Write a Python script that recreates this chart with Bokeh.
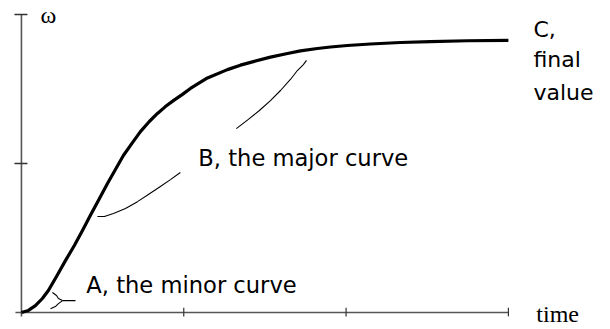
from bokeh.plotting import figure
from bokeh.models import Range1d
from bokeh.core.properties import value
from bokeh.embed import file_html
from bokeh.resources import INLINE

# Step response: angular speed omega against time
time = [0.0, 0.043, 0.086, 0.129, 0.166, 0.216, 0.271, 0.326, 0.376, 0.425,
        0.474, 0.530, 0.579, 0.628, 0.684, 0.733, 0.788, 0.838, 0.887, 0.936,
        0.992, 1.041, 1.146, 1.269, 1.349, 1.429, 1.534, 1.639, 1.719, 1.823,
        1.904, 2.008, 2.150, 2.335, 2.520, 2.747, 3.0]
omega = [0.0, 0.007, 0.023, 0.047, 0.074, 0.121, 0.174, 0.225, 0.275, 0.326,
         0.376, 0.433, 0.480, 0.527, 0.570, 0.607, 0.641, 0.668, 0.691, 0.711,
         0.732, 0.752, 0.787, 0.815, 0.830, 0.842, 0.857, 0.869, 0.878, 0.886,
         0.891, 0.896, 0.901, 0.906, 0.909, 0.912, 0.913]

x_ticks = [1, 2, 3]
y_ticks = [0.5, 1.0]

# Leader lines tying the labels to parts of the curve
lead_b1_x = [0.468, 0.511, 0.567, 0.641, 0.715, 0.782, 0.856, 0.918, 0.979]
lead_b1_y = [0.322, 0.322, 0.332, 0.349, 0.372, 0.396, 0.423, 0.446, 0.470]
lead_b2_x = [1.324, 1.398, 1.466, 1.534, 1.596, 1.657, 1.700, 1.737, 1.756]
lead_b2_y = [0.617, 0.648, 0.678, 0.711, 0.745, 0.782, 0.812, 0.832, 0.846]
brace_up_x = [0.191, 0.216, 0.228, 0.253]
brace_up_y = [0.067, 0.057, 0.047, 0.040]
brace_lo_x = [0.179, 0.209, 0.228, 0.253]
brace_lo_y = [0.013, 0.020, 0.030, 0.040]
brace_stem_x = [0.253, 0.333]
brace_stem_y = [0.040, 0.040]

p = figure(width=610, height=329, output_backend="svg", toolbar_location=None,
           x_range=Range1d(-0.129, 3.629), y_range=Range1d(-0.057, 1.047),
           x_axis_location=None, y_axis_location=None, min_border=0)
p.grid.visible = False
p.outline_line_color = None
p.background_fill_color = "white"

axis_col = "#555555"
# hand-drawn axes with crossing ticks
p.segment(x0=[-0.037], y0=[0], x1=[3.0], y1=[0], line_color=axis_col, line_width=1.6)
p.segment(x0=[0], y0=[-0.013], x1=[0], y1=[1.0], line_color=axis_col, line_width=1.6)
p.segment(x0=x_ticks, y0=[-0.013] * 3, x1=x_ticks, y1=[0.016] * 3,
          line_color="#333333", line_width=1.2)
p.segment(x0=[-0.043] * 2, y0=y_ticks, x1=[0.037] * 2, y1=y_ticks,
          line_color="#333333", line_width=1.4)

p.line(time, omega, line_color="black", line_width=3.2, line_join="round")

for xs, ys in [(lead_b1_x, lead_b1_y), (lead_b2_x, lead_b2_y),
               (brace_up_x, brace_up_y), (brace_lo_x, brace_lo_y),
               (brace_stem_x, brace_stem_y)]:
    p.line(xs, ys, line_color="black", line_width=1.1, line_join="round")

sans = value("DejaVu Sans")
serif = value("Liberation Serif")
p.text(x=[0.400], y=[0.091], text=["A, the minor curve"], text_font=sans,
       text_font_size="22.6px", text_baseline="alphabetic", text_color="black")
p.text(x=[1.090], y=[0.517], text=["B, the major curve"], text_font=sans,
       text_font_size="22.6px", text_baseline="alphabetic", text_color="black")
p.text(x=[3.154] * 3, y=[0.950, 0.849, 0.738], text=["C,", "final", "value"],
       text_font=sans, text_font_size="22px", text_baseline="alphabetic",
       text_color="black")
p.text(x=[0.117], y=[1.000], text=["ω"], text_font=serif, text_font_size="24px",
       text_baseline="alphabetic", text_color="black")
p.text(x=[3.172], y=[-0.006], text=["time"], text_font=serif, text_font_size="24px",
       text_baseline="alphabetic", text_color="black")

open("out.html", "w").write(file_html(p, INLINE))
